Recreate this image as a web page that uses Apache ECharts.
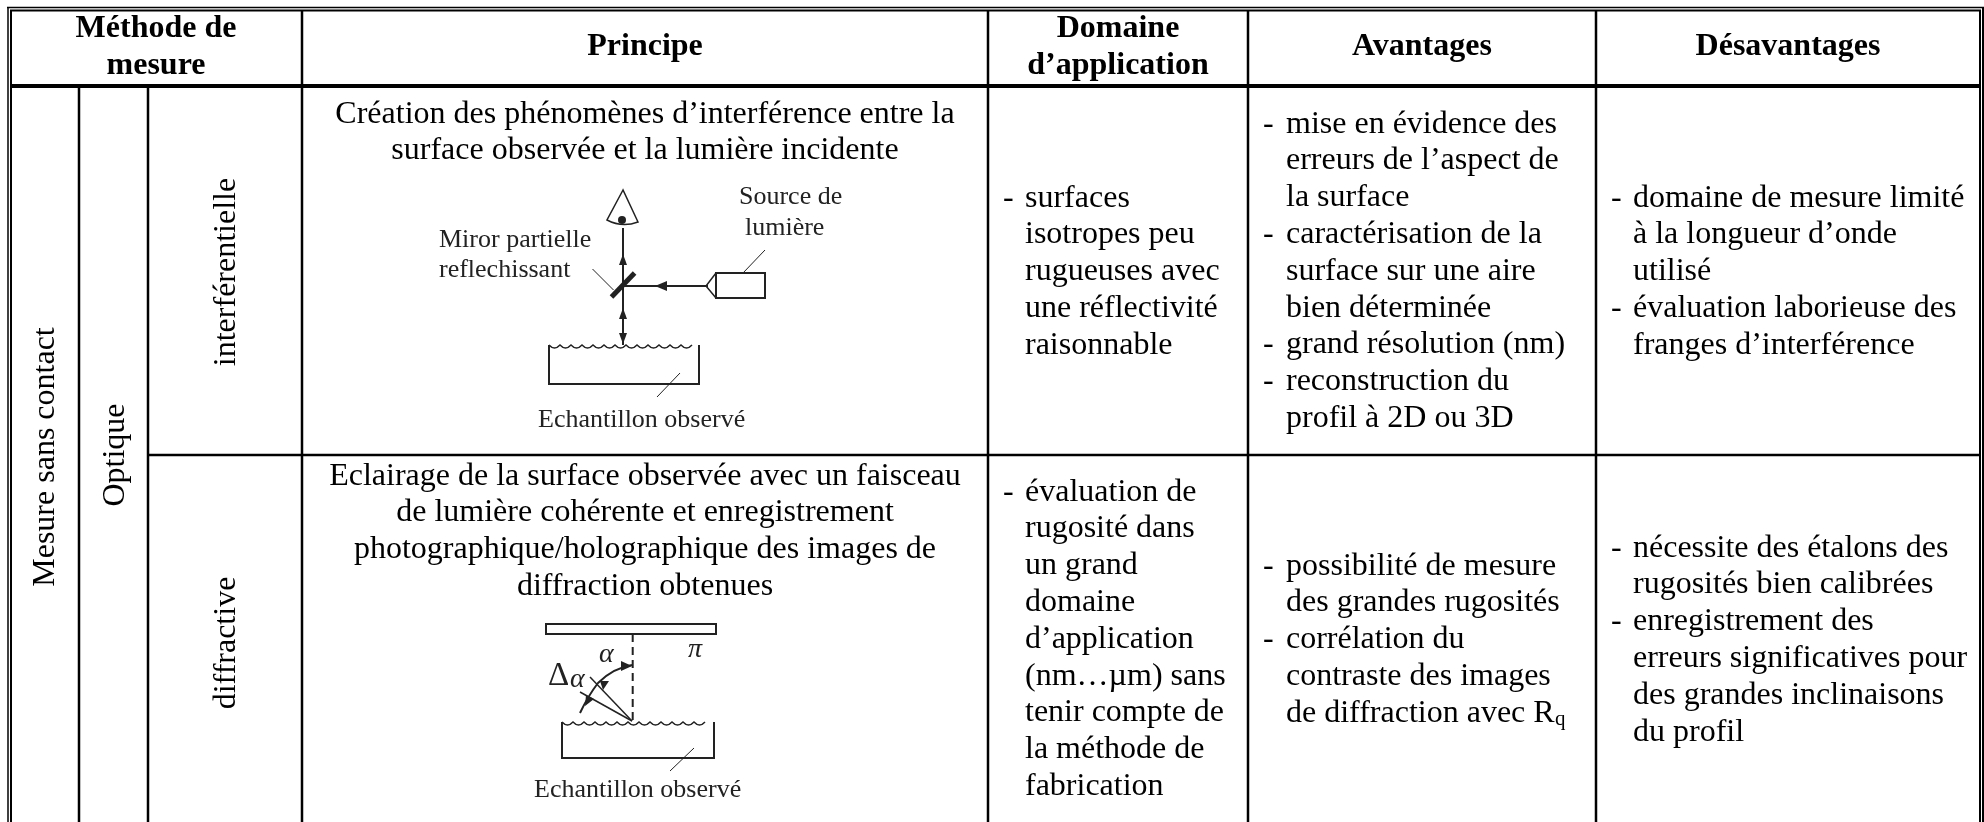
<!DOCTYPE html>
<html>
<head>
    <meta charset="utf-8">
    <title>Méthode de mesure</title>
    <script src="https://cdn.jsdelivr.net/npm/echarts@6/dist/echarts.min.js"></script>
    <style>
        html, body { margin: 0; padding: 0; background: #fff; }
        #chart1 { width: 1984px; height: 822px; }
    </style>
</head>
<body>
<div id="chart1"></div>
<script>
    // contenu du tableau
    var enTetes = ['Principe', 'Avantages', 'Désavantages'];
    var enTeteMethode = ['Méthode de', 'mesure'];
    var enTeteDomaine = ['Domaine', 'd’application'];
    var etiquettesVerticales = ['Mesure sans contact', 'Optique', 'interférentielle', 'diffractive'];

    var principe1 = ['Création des phénomènes d’interférence entre la', 'surface observée et la lumière incidente'];
    var principe2 = ['Eclairage de la surface observée avec un faisceau', 'de lumière cohérente et enregistrement',
        'photographique/holographique des images de', 'diffraction obtenues'];

    var domaine1 = ['- surfaces', 'isotropes peu', 'rugueuses avec', 'une réflectivité', 'raisonnable'];
    var domaine2 = ['- évaluation de', 'rugosité dans', 'un grand', 'domaine', 'd’application', '(nm…µm) sans',
        'tenir compte de', 'la méthode de', 'fabrication'];

    var avantages1 = ['- mise en évidence des', 'erreurs de l’aspect de', 'la surface', '- caractérisation de la',
        'surface sur une aire', 'bien déterminée', '- grand résolution (nm)', '- reconstruction du', 'profil à 2D ou 3D'];
    var avantages2 = ['- possibilité de mesure', 'des grandes rugosités', '- corrélation du',
        'contraste des images', 'de diffraction avec R'];

    var desavantages1 = ['- domaine de mesure limité', 'à la longueur d’onde', 'utilisé',
        '- évaluation laborieuse des', 'franges d’interférence'];
    var desavantages2 = ['- nécessite des étalons des', 'rugosités bien calibrées', '- enregistrement des',
        'erreurs significatives pour', 'des grandes inclinaisons', 'du profil'];

    var FONT = '"Liberation Serif", "Times New Roman", serif';
    var SIZE = 32, LINE = 36.8;
    var W = 1984, H = 822;
    var items = [];

    function pose(x, base, text, opt) {
        items.push(Object.assign({x: x, base: base, text: text, size: SIZE, bold: false, align: 'center', rot: 0}, opt || {}));
    }
    function centre(lines, x, base, opt) {
        lines.forEach(function (t, i) { pose(x, base + i * LINE, t, opt); });
    }
    // colonne avec tirets : le tiret et le texte ont chacun leur x
    function liste(lines, xTiret, xTexte, base) {
        lines.forEach(function (t, i) {
            var y = base + i * LINE;
            if (t.indexOf('- ') === 0) {
                pose(xTiret, y, '-', {align: 'left'});
                t = t.slice(2);
            }
            pose(xTexte, y, t, {align: 'left'});
        });
    }

    centre(enTeteMethode, 156, 40, {bold: true});
    pose(645, 58, enTetes[0], {bold: true});
    centre(enTeteDomaine, 1118, 40, {bold: true});
    pose(1422, 58, enTetes[1], {bold: true});
    pose(1788, 58, enTetes[2], {bold: true});

    pose(56, 457, etiquettesVerticales[0], {rot: Math.PI / 2});
    pose(126, 455, etiquettesVerticales[1], {rot: Math.PI / 2});
    pose(237, 272, etiquettesVerticales[2], {rot: Math.PI / 2});
    pose(237, 643, etiquettesVerticales[3], {rot: Math.PI / 2});

    centre(principe1, 645, 125);
    centre(principe2, 645, 487);

    liste(domaine1, 1003, 1025, 209);
    liste(domaine2, 1003, 1025, 503);
    liste(avantages1, 1263, 1286, 135);
    liste(avantages2, 1263, 1286, 577);
    pose(1555, 727, 'q', {size: 21, align: 'left'});
    liste(desavantages1, 1611, 1633, 209);
    liste(desavantages2, 1611, 1633, 559);

    // filets du tableau : x1, y1, x2, y2, épaisseur
    var filets = [
        [7, 7.5, W, 7.5, 1.5], [10, 10.5, 1981, 10.5, 2],
        [8, 7, 8, H, 1.5], [11, 10, 11, H, 2],
        [1980, 10, 1980, H, 2], [1983, 7, 1983, H, 2],
        [10, 86, 1981, 86, 4],
        [148, 455, 1981, 455, 2.5],
        [79, 86, 79, H, 2.5], [148, 86, 148, H, 2.5],
        [302, 10, 302, H, 2.5], [988, 10, 988, H, 2.5],
        [1248, 10, 1248, H, 2.5], [1596, 10, 1596, H, 2.5]
    ];

    // schémas
    var GRIS = '#222';
    function trait(x1, y1, x2, y2, w, dash) {
        return {type: 'line', shape: {x1: x1, y1: y1, x2: x2, y2: y2},
            style: {stroke: GRIS, lineWidth: w || 2, lineDash: dash || null}};
    }
    function fleche(pts) {
        return {type: 'polygon', shape: {points: pts}, style: {fill: GRIS}};
    }
    function cadre(x, y, w, h) {
        return {type: 'rect', shape: {x: x, y: y, width: w, height: h}, style: {fill: 'none', stroke: GRIS, lineWidth: 2}};
    }
    function ondule(x1, x2, y) {
        var d = 'M' + x1 + ' ' + y, pas = 11;
        for (var x = x1; x + pas <= x2; x += pas) {
            d += ' Q' + (x + pas / 2) + ' ' + (y + 6) + ' ' + (x + pas) + ' ' + y;
        }
        return {type: 'path', shape: {pathData: d}, style: {fill: 'none', stroke: GRIS, lineWidth: 1.5}};
    }
    function legende(x, y, t, size, italic) {
        return {type: 'text', x: x, y: y, style: {text: t, x: 0, y: 0, font: (italic ? 'italic ' : '') + (size || 26) + 'px ' + FONT, fill: GRIS, textVerticalAlign: 'middle'}};
    }
    function courbe(d, w) {
        return {type: 'path', shape: {pathData: d}, style: {fill: 'none', stroke: GRIS, lineWidth: w || 2}};
    }
    function bac(x1, x2, y1, y2) {
        return {type: 'polyline', shape: {points: [[x1, y1], [x1, y2], [x2, y2], [x2, y1]]}, style: {fill: 'none', stroke: GRIS, lineWidth: 2}};
    }

    var schema1 = [
        courbe('M623 190 L607 220 Q622 228 638 222 Z', 1.5),
        {type: 'circle', shape: {cx: 622, cy: 220, r: 4}, style: {fill: GRIS}},
        trait(623, 228, 623, 345),
        fleche([[623, 254], [619, 265], [627, 265]]),
        fleche([[623, 308], [619, 319], [627, 319]]),
        fleche([[623, 344], [619, 333], [627, 333]]),
        trait(611.5, 297, 634.6, 273, 5),
        trait(592.5, 269, 613.5, 290, 1),
        trait(623, 286, 708, 286),
        fleche([[655, 286], [667, 281], [667, 291]]),
        cadre(716, 273, 49, 25),
        courbe('M716 273 L706 286 L716 298', 1.5),
        trait(743, 273, 765, 250, 1),
        bac(549, 699, 345, 384),
        ondule(549, 699, 345),
        trait(657, 397, 680, 373, 1),
        legende(739, 197, 'Source de'),
        legende(745, 228, 'lumière'),
        legende(439, 240, 'Miror partielle'),
        legende(439, 270, 'reflechissant'),
        legende(538, 420, 'Echantillon observé')
    ];
    var schema2 = [
        cadre(546, 624, 170, 10),
        trait(632.7, 634, 632.7, 720, 2, [8, 5]),
        legende(688, 650, 'π', 28, true),
        legende(599, 655, 'α', 28, true),
        legende(548, 676, 'Δ', 33),
        legende(570, 680, 'α', 28, true),
        trait(632, 721, 590, 677, 1.5),
        trait(632, 721, 580, 692, 1.5),
        courbe('M632 665 Q613 668 598 683 Q588 696 580 713', 2),
        fleche([[632, 666], [621, 661], [621, 671]]),
        fleche([[600, 681], [603, 690], [609, 681]]),
        fleche([[585, 706], [594, 699], [586, 695]]),
        bac(562, 714, 722, 758),
        ondule(562, 714, 722),
        trait(670, 771, 694, 748, 1),
        legende(534, 790, 'Echantillon observé')
    ];
    var schemas = schema1.concat(schema2);

    var myChart1 = echarts.init(document.getElementById('chart1'), null, {renderer: 'canvas'});
    myChart1.setOption({
        animation: false,
        backgroundColor: '#fff',
        grid: {left: 0, right: 0, top: 0, bottom: 0},
        xAxis: {type: 'value', min: 0, max: W, show: false},
        yAxis: {type: 'value', min: 0, max: H, inverse: true, show: false},
        series: [
            {
                name: 'filets',
                type: 'custom',
                silent: true,
                data: filets,
                encode: {x: [0, 2], y: [1, 3]},
                renderItem: function (params, api) {
                    var a = api.coord([api.value(0), api.value(1)]);
                    var b = api.coord([api.value(2), api.value(3)]);
                    return {type: 'line', shape: {x1: a[0], y1: a[1], x2: b[0], y2: b[1]},
                        style: {stroke: '#000', lineWidth: api.value(4)}};
                }
            },
            {
                name: 'schemas',
                type: 'custom',
                silent: true,
                data: schemas.map(function (s, i) { return [i]; }),
                renderItem: function (params) {
                    return schemas[params.dataIndex];
                }
            },
            {
                name: 'textes',
                type: 'custom',
                silent: true,
                data: items.map(function (it) { return [it.x, it.base]; }),
                encode: {x: 0, y: 1},
                renderItem: function (params, api) {
                    var it = items[params.dataIndex];
                    var p = api.coord([api.value(0), api.value(1)]);
                    var d = it.size * 0.3375;
                    return {
                        type: 'text',
                        x: it.rot ? p[0] - d : p[0],
                        y: it.rot ? p[1] : p[1] - d,
                        rotation: it.rot,
                        style: {
                            text: it.text, x: 0, y: 0,
                            font: (it.bold ? 'bold ' : '') + it.size + 'px ' + FONT,
                            fill: '#000',
                            textAlign: it.align,
                            textVerticalAlign: 'middle'
                        }
                    };
                }
            }
        ]
    });
</script>
</body>
</html>
